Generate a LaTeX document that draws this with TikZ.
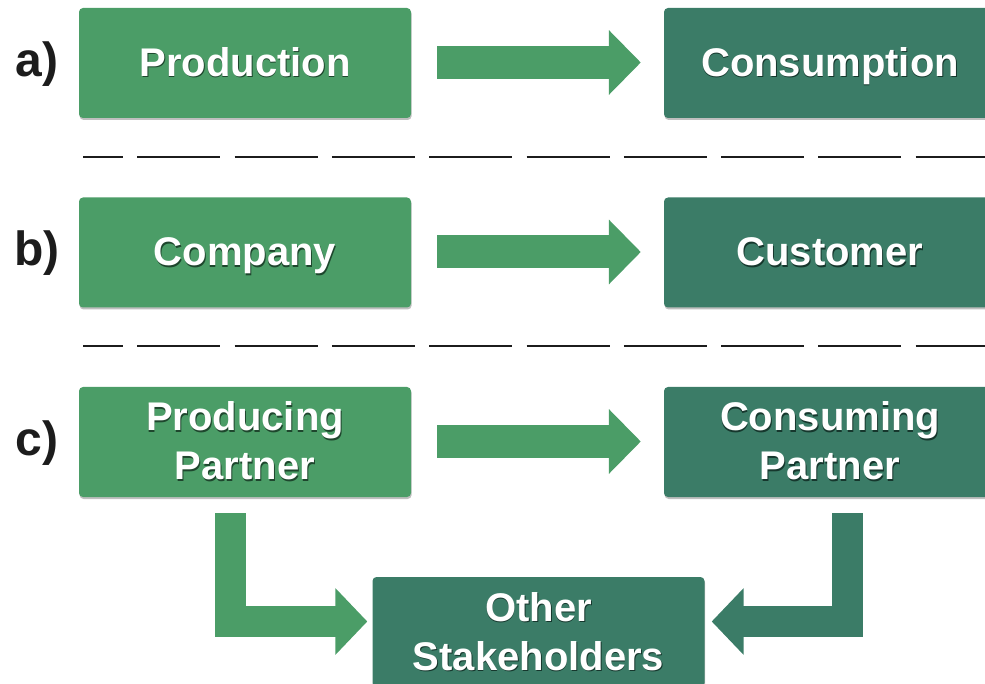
\documentclass[tikz,border=0pt]{standalone}
\usepackage{fontspec}
\setmainfont{Liberation Sans}
\usetikzlibrary{arrows.meta,calc,shadows}
\definecolor{boxA}{RGB}{75,157,103}
\definecolor{boxB}{RGB}{59,124,103}
\definecolor{shA}{RGB}{30,70,45}
\definecolor{shB}{RGB}{22,55,45}
\definecolor{labelc}{RGB}{28,28,28}
\newcommand\shtxt[2]{\makebox[0pt][l]{\hspace{0.8pt}\raisebox{-1.6pt}{\color{#1}#2}}#2}
\tikzset{
  boxbase/.style={rounded corners=4pt, minimum width=332pt, minimum height=110pt,
    inner sep=0pt, text=white, align=center,
    font=\fontsize{40}{49}\selectfont\bfseries,
    drop shadow={shadow xshift=0.6pt, shadow yshift=-2pt, opacity=0.25, fill=black}},
  boxa/.style={boxbase, fill=boxA},
  boxb/.style={boxbase, fill=boxB},
  oneline/.style={text height=35pt, text depth=8.4pt},
  rowlabel/.style={text=labelc, font=\fontsize{48}{50}\selectfont\bfseries, inner sep=0pt,
    text height=37pt, text depth=10pt},
  sep/.style={draw=labelc, line width=2pt, dash pattern=on 83pt off 14.3pt, dash phase=43pt},
  bigarrow/.style={line width=33pt, -{Triangle[length=32pt, width=63pt]}},
  bentarrow/.style={line width=31pt, line join=miter, -{Triangle[length=32pt, width=65pt]}},
}
\begin{document}
\begin{tikzpicture}[x=1pt, y=-1pt]
\useasboundingbox (0,0) rectangle (985,684);
% row labels
\node[rowlabel] (la) at (37,63) {a)};
\node[rowlabel] (lb) at (37,252.5) {b)};
\node[rowlabel] (lc) at (37,442) {c)};
% boxes
\node[boxa, oneline] (prod) at (245,63) {\shtxt{shA}{Production}};
\node[boxb, oneline] (cons) at (830,63) {\shtxt{shB}{Consumption}};
\node[boxa, oneline] (comp) at (245,252.5) {\shtxt{shA}{Company}};
\node[boxb, oneline] (cust) at (830,252.5) {\shtxt{shB}{Customer}};
\node[boxa] (pp) at (245,442) {\shtxt{shA}{Producing}\\\shtxt{shA}{Partner}};
\node[boxb] (cp) at (830,442) {\shtxt{shB}{Consuming}\\\shtxt{shB}{Partner}};
\node[boxb] (other) at (538.5,632) {\shtxt{shB}{Other}\\\shtxt{shB}{Stakeholders}};
% separators
\draw[sep] (83,157) -- (985,157);
\draw[sep] (83,346) -- (985,346);
% arrows
\draw[bigarrow, draw=boxA] ($(prod.east)+(26,-0.5)$) -- ($(cons.west)+(-23,-0.5)$);
\draw[bigarrow, draw=boxA] ($(comp.east)+(26,-0.5)$) -- ($(cust.west)+(-23,-0.5)$);
\draw[bigarrow, draw=boxA] ($(pp.east)+(26,-0.5)$) -- ($(cp.west)+(-23,-0.5)$);
\draw[bentarrow, draw=boxA] ($(pp.south)+(-15,16)$) |- ($(other.west)+(-5,-10.5)$);
\draw[bentarrow, draw=boxB] ($(cp.south)+(17.5,16)$) |- ($(other.east)+(7,-10.5)$);
\end{tikzpicture}
\end{document}
